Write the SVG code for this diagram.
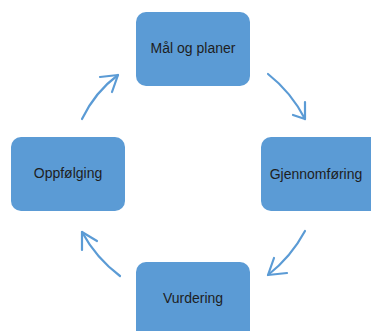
<svg xmlns="http://www.w3.org/2000/svg" width="371" height="331" viewBox="0 0 371 331">
<style>
.box{fill:#5B9BD5;}
.lbl{font-family:"Liberation Sans",Arial,sans-serif;font-size:14px;fill:#1e1e1e;text-anchor:middle;}
.arr{fill:none;stroke:#5B9BD5;stroke-width:2.2;stroke-linecap:round;stroke-linejoin:round;}
</style>
<rect width="371" height="331" fill="#ffffff"/>
<g id="node-mal">
<rect class="box" x="136" y="12" width="114" height="74" rx="10"/>
<text class="lbl" x="193" y="53">Mål og planer</text>
</g>
<g id="node-gjennomforing">
<rect class="box" x="261" y="137" width="130" height="74" rx="10"/>
<text class="lbl" x="316" y="179">Gjennomføring</text>
</g>
<g id="node-vurdering">
<rect class="box" x="136" y="262" width="114" height="90" rx="10"/>
<text class="lbl" x="193" y="303">Vurdering</text>
</g>
<g id="node-oppfolging">
<rect class="box" x="11" y="137" width="114" height="74" rx="10"/>
<text class="lbl" x="68" y="178">Oppfølging</text>
</g>
<g id="connectors">
<path class="arr" d="M82,119 Q95,92 118,75"/>
<polyline class="arr" points="100,77 118,75 112,92"/>
<path class="arr" d="M268,74 Q291,92 305,119"/>
<polyline class="arr" points="293,115 305,119 305,102"/>
<path class="arr" d="M305,231 Q291,257 268,275"/>
<polyline class="arr" points="274,258 268,275 287,273"/>
<path class="arr" d="M120,276 Q96,258 82,232"/>
<polyline class="arr" points="82,250 82,232 97,241"/>
</g>
</svg>
